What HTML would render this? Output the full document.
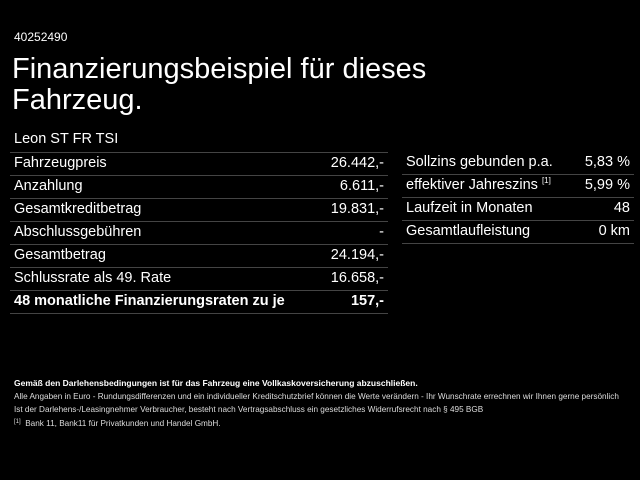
<!DOCTYPE html>
<html><head><meta charset="utf-8"><style>
body{margin:0;width:640px;height:480px;background:#000;color:#fff;font-family:"Liberation Sans",sans-serif;position:relative;overflow:hidden}
.a{position:absolute;white-space:nowrap}
.row{position:absolute;height:23px;border-bottom:1px solid #444;font-size:14.5px;line-height:22px}
.row span{position:absolute;white-space:nowrap}
.r{right:4px}
.l{left:4px}
.s{font-size:9.5px;color:#ddd}
sup{line-height:0;vertical-align:0;position:relative;top:-6px}
</style></head><body>
<div class="a" style="left:14px;top:30px;font-size:12px">40252490</div>
<div class="a" style="left:12px;top:54px;font-size:29px;line-height:31px">Finanzierungsbeispiel für dieses<br>Fahrzeug.</div>
<div class="a" style="left:14px;top:131px;font-size:14.5px">Leon ST FR TSI</div>
<div style="position:absolute;left:10px;top:152px;width:378px;border-top:1px solid #444"></div>
<div class="row" style="left:10px;width:378px;top:152px"><span class="l">Fahrzeugpreis</span><span class="r">26.442,-</span></div>
<div class="row" style="left:10px;width:378px;top:175px"><span class="l">Anzahlung</span><span class="r">6.611,-</span></div>
<div class="row" style="left:10px;width:378px;top:198px"><span class="l">Gesamtkreditbetrag</span><span class="r">19.831,-</span></div>
<div class="row" style="left:10px;width:378px;top:221px"><span class="l">Abschlussgebühren</span><span class="r">-</span></div>
<div class="row" style="left:10px;width:378px;top:244px"><span class="l">Gesamtbetrag</span><span class="r">24.194,-</span></div>
<div class="row" style="left:10px;width:378px;top:267px"><span class="l">Schlussrate als 49. Rate</span><span class="r">16.658,-</span></div>
<div class="row" style="left:10px;width:378px;top:290px;font-weight:bold"><span class="l">48 monatliche Finanzierungsraten zu je</span><span class="r">157,-</span></div>
<div class="row" style="left:402px;width:232px;top:151px"><span class="l">Sollzins gebunden p.a.</span><span class="r">5,83 %</span></div>
<div class="row" style="left:402px;width:232px;top:174px"><span class="l">effektiver Jahreszins <sup style="font-size:8px">[1]</sup></span><span class="r">5,99 %</span></div>
<div class="row" style="left:402px;width:232px;top:197px"><span class="l">Laufzeit in Monaten</span><span class="r">48</span></div>
<div class="row" style="left:402px;width:232px;top:220px"><span class="l">Gesamtlaufleistung</span><span class="r">0 km</span></div>
<div class="a s" style="left:14px;top:378px;font-weight:bold;color:#fff;font-size:8.5px">Gemäß den Darlehensbedingungen ist für das Fahrzeug eine Vollkaskoversicherung abzuschließen.</div>
<div class="a s" style="left:14px;top:392px;font-size:8.2px">Alle Angaben in Euro - Rundungsdifferenzen und ein individueller Kreditschutzbrief können die Werte verändern - Ihr Wunschrate errechnen wir Ihnen gerne persönlich</div>
<div class="a s" style="left:14px;top:405px;font-size:8.2px">Ist der Darlehens-/Leasingnehmer Verbraucher, besteht nach Vertragsabschluss ein gesetzliches Widerrufsrecht nach § 495 BGB</div>
<div class="a s" style="left:14px;top:419px;font-size:8.2px"><sup style="font-size:6px;top:-3px">[1]</sup>&nbsp; Bank 11, Bank11 für Privatkunden und Handel GmbH.</div>
</body></html>
